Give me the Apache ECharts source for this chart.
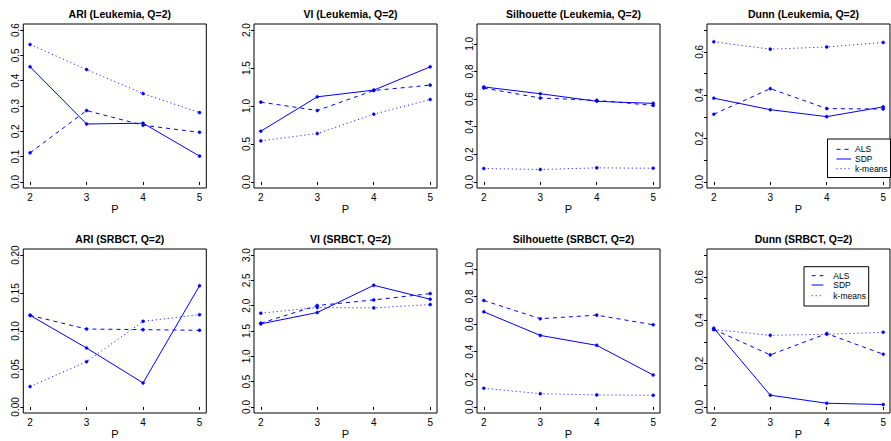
<!DOCTYPE html>
<html>
<head>
<meta charset="utf-8">
<script src="https://cdn.jsdelivr.net/npm/echarts@6/dist/echarts.min.js"></script>
<style>
html,body{margin:0;padding:0;background:#fff;}
#chart{width:891px;height:441px;}
</style>
</head>
<body>
<div id="chart"></div>
<script>
// ---- data ----
const P = [2, 3, 4, 5];
const seriesNames = ['ALS', 'SDP', 'k-means'];

const titles = [
  'ARI (Leukemia, Q=2)', 'VI (Leukemia, Q=2)', 'Silhouette (Leukemia, Q=2)', 'Dunn (Leukemia, Q=2)',
  'ARI (SRBCT, Q=2)', 'VI (SRBCT, Q=2)', 'Silhouette (SRBCT, Q=2)', 'Dunn (SRBCT, Q=2)'
];

// Leukemia
const ariLeukALS = [0.115, 0.282, 0.224, 0.196];
const ariLeukSDP = [0.455, 0.229, 0.232, 0.102];
const ariLeukKM  = [0.543, 0.444, 0.349, 0.274];

const viLeukALS = [1.051, 0.941, 1.204, 1.275];
const viLeukSDP = [0.668, 1.121, 1.209, 1.516];
const viLeukKM  = [0.541, 0.637, 0.892, 1.086];

const silLeukALS = [0.680, 0.608, 0.591, 0.554];
const silLeukSDP = [0.688, 0.639, 0.584, 0.569];
const silLeukKM  = [0.097, 0.090, 0.102, 0.099];

const dunnLeukALS = [0.312, 0.430, 0.338, 0.336];
const dunnLeukSDP = [0.386, 0.333, 0.301, 0.346];
const dunnLeukKM  = [0.646, 0.612, 0.622, 0.643];

// SRBCT
const ariSrbALS = [0.1206, 0.1026, 0.1018, 0.1009];
const ariSrbSDP = [0.1206, 0.0776, 0.0316, 0.1596];
const ariSrbKM  = [0.0268, 0.0596, 0.1127, 0.1215];

const viSrbALS = [1.655, 2.003, 2.114, 2.239];
const viSrbSDP = [1.641, 1.865, 2.403, 2.127];
const viSrbKM  = [1.852, 1.963, 1.957, 2.022];

const silSrbALS = [0.771, 0.639, 0.665, 0.595];
const silSrbSDP = [0.689, 0.518, 0.446, 0.231];
const silSrbKM  = [0.135, 0.096, 0.087, 0.084];

const dunnSrbALS = [0.357, 0.240, 0.338, 0.243];
const dunnSrbSDP = [0.363, 0.054, 0.017, 0.011];
const dunnSrbKM  = [0.357, 0.330, 0.335, 0.344];

// y-axis limits (R ylim) and tick values
const yLims = [[0, 0.6], [0, 2.0], [0, 1.1], [0, 0.7], [0, 0.2], [0, 3.0], [0, 1.1], [0, 0.7]];
const yTicks = [
  [0, 0.1, 0.2, 0.3, 0.4, 0.5, 0.6],
  [0, 0.5, 1.0, 1.5, 2.0],
  [0, 0.2, 0.4, 0.6, 0.8, 1.0],
  [0, 0.1, 0.2, 0.3, 0.4, 0.5, 0.6, 0.7],
  [0, 0.05, 0.10, 0.15, 0.20],
  [0, 0.5, 1.0, 1.5, 2.0, 2.5, 3.0],
  [0, 0.2, 0.4, 0.6, 0.8, 1.0],
  [0, 0.1, 0.2, 0.3, 0.4, 0.5, 0.6, 0.7]
];
const yLabels = [
  [0, 0.1, 0.2, 0.3, 0.4, 0.5, 0.6],
  [0, 0.5, 1.0, 1.5, 2.0],
  [0, 0.2, 0.4, 0.6, 0.8, 1.0],
  [0, 0.2, 0.4, 0.6],
  [0, 0.05, 0.10, 0.15, 0.20],
  [0, 0.5, 1.0, 1.5, 2.0, 2.5, 3.0],
  [0, 0.2, 0.4, 0.6, 0.8, 1.0],
  [0, 0.2, 0.4, 0.6]
];
const yDecimals = [1, 1, 1, 1, 2, 1, 1, 1];

const panels = [
  [ariLeukALS, ariLeukSDP, ariLeukKM],
  [viLeukALS, viLeukSDP, viLeukKM],
  [silLeukALS, silLeukSDP, silLeukKM],
  [dunnLeukALS, dunnLeukSDP, dunnLeukKM],
  [ariSrbALS, ariSrbSDP, ariSrbKM],
  [viSrbALS, viSrbSDP, viSrbKM],
  [silSrbALS, silSrbSDP, silSrbKM],
  [dunnSrbALS, dunnSrbSDP, dunnSrbKM]
];

// ---- layout / style ----
const FONT = '"Liberation Sans", Arial, Helvetica, sans-serif';
const BLUE = '#0000ff';
const colLeft = [23.3, 254, 477, 707];
const rowTop = [24, 249];
const W = 183, H = 164;
const lineTypes = [[4, 4], 'solid', [1, 3]];

const grids = [], xAxes = [], yAxes = [], series = [], titleArr = [];
for (let k = 0; k < 8; k++) {
  const r = Math.floor(k / 4), c = k % 4;
  grids.push({
    left: colLeft[c], top: rowTop[r], width: W, height: H,
    show: true, borderColor: '#000', borderWidth: 1, backgroundColor: 'transparent'
  });
  titleArr.push({
    text: titles[k], left: colLeft[c] + W / 2, top: rowTop[r] - 21, textAlign: 'center',
    textStyle: { fontFamily: FONT, fontSize: 10.5, fontWeight: 'bold', color: '#000' }
  });
  const xr = P[P.length - 1] - P[0];
  xAxes.push({
    type: 'value', gridIndex: k,
    min: P[0] - 0.04 * xr, max: P[P.length - 1] + 0.04 * xr,
    name: 'P', nameLocation: 'middle', nameGap: 15,
    nameTextStyle: { fontFamily: FONT, fontSize: 11, color: '#000' },
    axisLine: { show: false },
    axisTick: { show: true, length: 3, customValues: P, lineStyle: { color: '#000', width: 1 } },
    axisLabel: { show: true, customValues: P, margin: 4, fontFamily: FONT, fontSize: 10, color: '#000' },
    splitLine: { show: false }
  });
  const lo = yLims[k][0], hi = yLims[k][1], yr = hi - lo;
  const dec = yDecimals[k];
  yAxes.push({
    type: 'value', gridIndex: k,
    min: lo - 0.04 * yr, max: hi + 0.04 * yr,
    axisLine: { show: false },
    axisTick: { show: true, length: 3, customValues: yTicks[k], lineStyle: { color: '#000', width: 1 } },
    axisLabel: {
      show: true, customValues: yLabels[k], rotate: 90, margin: 3,
      fontFamily: FONT, fontSize: 10, color: '#000',
      formatter: v => Number(v).toFixed(dec)
    },
    splitLine: { show: false }
  });
  for (let s = 0; s < 3; s++) {
    series.push({
      type: 'line', name: seriesNames[s], xAxisIndex: k, yAxisIndex: k,
      data: P.map((p, i) => [p, panels[k][s][i]]),
      symbol: 'circle', symbolSize: 3, showSymbol: true, showAllSymbol: true,
      color: BLUE,
      lineStyle: { color: BLUE, width: 1, type: lineTypes[s] },
      itemStyle: { color: BLUE, borderColor: BLUE, borderWidth: 0.5 },
      emphasis: { disabled: true },
      animation: false, silent: true, z: 3
    });
  }
}

function legendGraphic(x, y, w, h, lineX0, lineX1, textX, rowsY) {
  const els = [{
    type: 'rect', shape: { x: x, y: y, width: w, height: h },
    style: { fill: '#fff', stroke: '#000', lineWidth: 1 }, z: 10
  }];
  for (let i = 0; i < 3; i++) {
    els.push({
      type: 'line', shape: { x1: lineX0, y1: rowsY[i], x2: lineX1, y2: rowsY[i] },
      style: { stroke: BLUE, lineWidth: 1, lineDash: lineTypes[i] === 'solid' ? null : lineTypes[i] }, z: 11
    });
    els.push({
      type: 'text', x: textX, y: rowsY[i],
      style: { text: seriesNames[i], font: '8.5px ' + FONT, fill: '#000', verticalAlign: 'middle', align: 'left' }, z: 11
    });
  }
  return els;
}

const graphics = [].concat(
  legendGraphic(827.5, 139, 63, 38.5, 836.5, 851, 855, [149.3, 159, 168.7]),
  legendGraphic(804, 266.7, 64.7, 39.3, 811.7, 823.3, 833.3, [275.7, 285, 295.7])
);

const chart = echarts.init(document.getElementById('chart'), null, { renderer: 'svg' });
chart.setOption({
  animation: false,
  backgroundColor: '#fff',
  title: titleArr,
  grid: grids,
  xAxis: xAxes,
  yAxis: yAxes,
  series: series,
  graphic: graphics
});
</script>
</body>
</html>
